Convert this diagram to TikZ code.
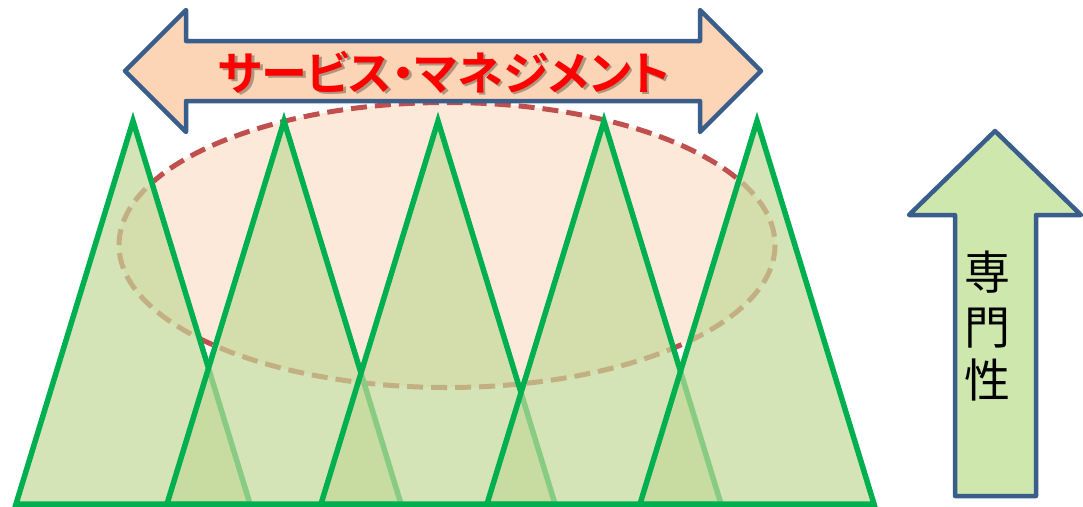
\documentclass[tikz,border=0pt]{standalone}
\usepackage{fontspec}
\newfontfamily\jpbold{Noto Sans CJK JP Bold}[RawFeature=+palt]
\newfontfamily\jpreg{Noto Sans CJK JP}
\definecolor{arrowline}{RGB}{58,94,140}
\definecolor{arrowfill}{RGB}{251,213,181}
\definecolor{ellfill}{RGB}{253,233,218}
\definecolor{ellline}{RGB}{192,80,77}
\definecolor{trigreen}{RGB}{0,176,80}
\definecolor{trifill}{RGB}{195,216,153}
\definecolor{upfill}{RGB}{205,231,172}
\begin{document}
\begin{tikzpicture}[x=1pt,y=-1pt,
  tri/.style={draw=trigreen, line width=5.5pt, fill=trifill, fill opacity=0.7, line join=miter},
  bigarrow/.style={draw=arrowline, line width=4.5pt, line join=round},
  ell/.style={draw=ellline, fill=ellfill, line width=5pt, dash pattern=on 16pt off 8pt},
  title/.style={font=\jpbold\fontsize{46}{50}\selectfont, inner sep=0pt},
  vlabel/.style={font=\jpreg\fontsize{46}{50}\selectfont, inner sep=0pt, text=black}]
\useasboundingbox (0,0) rectangle (1083,506);

% dashed ellipse (behind the triangles)
\draw[ell] (447,245) ellipse [x radius=328, y radius=142.5];

% triangles, left to right
\draw[tri] (16,504) -- (133,121) -- (250,504) -- cycle;
\draw[tri] (167,504) -- (284,121) -- (401,504) -- cycle;
\draw[tri] (321,504) -- (438,121) -- (555,504) -- cycle;
\draw[tri] (487,504) -- (604,121) -- (721,504) -- cycle;
\draw[tri] (640,504) -- (757,121) -- (874,504) -- cycle;

% double arrow
\draw[bigarrow, fill=arrowfill] (125,71) -- (186,10) -- (186,41) -- (700,41) -- (700,10)
  -- (761,71) -- (700,132) -- (700,101) -- (186,101) -- (186,132) -- cycle;
\node[title, text=black, opacity=0.3] (titleshadow) at (446.5,74) {サービス・マネジメント};
\node[title, text=red] (title) at (444,72) {サービス・マネジメント};

% vertical arrow
\draw[bigarrow, fill=upfill] (995,131) -- (1081,215) -- (1036,215) -- (1036,496)
  -- (955,496) -- (955,215) -- (909,215) -- cycle;
\node[vlabel] (c1) at (987,272) {専};
\node[vlabel] (c2) at (987,328) {門};
\node[vlabel] (c3) at (987,380) {性};
\end{tikzpicture}
\end{document}
